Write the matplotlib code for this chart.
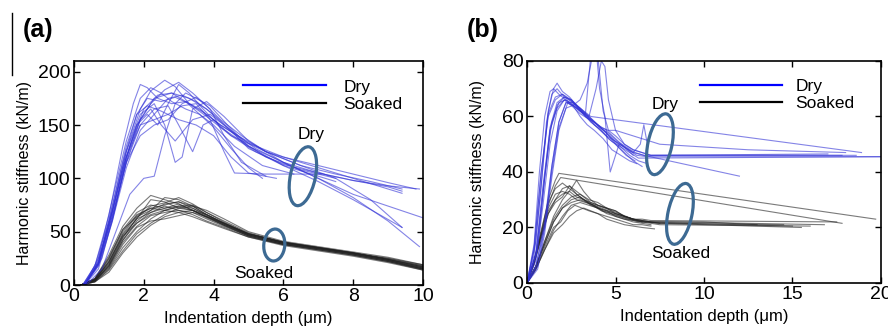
import matplotlib
matplotlib.use("Agg")
import matplotlib.pyplot as plt
from matplotlib.patches import Ellipse
from matplotlib.lines import Line2D
from matplotlib.transforms import ScaledTranslation

plt.rcParams["font.family"] = ["Liberation Sans", "DejaVu Sans"]

# =====================================
# DATA (a): 10 um indent, x = depth (um), y = stiffness (kN/m)
# =====================================

a_dry_x = [
    [0.25, 0.6, 1.0, 1.4, 1.7, 1.9, 2.1, 2.4, 2.8, 3.2, 3.6, 4.2, 5, 6, 7, 8, 9, 9.8],
    [0.3, 0.7, 1.1, 1.5, 1.9, 2.2, 2.6, 2.9, 3.3, 3.8, 4.5, 5.5, 6.5, 7.5, 8.5, 9.4],
    [0.3, 0.7, 1.1, 1.5, 1.8, 2.1, 2.4, 2.7, 3.0, 3.3, 3.7, 4.2, 5, 6, 7, 8, 9, 10],
    [0.35, 0.8, 1.2, 1.6, 2.0, 2.3, 2.6, 2.9, 3.2, 3.5, 3.9, 4.4, 5, 6, 7, 8, 9.4],
    [0.3, 0.7, 1.1, 1.5, 1.9, 2.3, 2.6, 2.9, 3.1, 3.4, 3.8, 4.3, 5, 6, 7, 8, 9, 9.9],
    [0.3, 0.7, 1.1, 1.5, 1.9, 2.3, 2.7, 3.0, 3.4, 3.7, 4.0, 4.5, 5.2, 6.0, 7.5],
    [0.3, 0.7, 1.1, 1.5, 1.9, 2.2, 2.5, 2.8, 3.2, 3.6, 4.0, 4.6, 5.4, 6.3],
    [0.3, 0.7, 1.1, 1.5, 1.9, 2.3, 2.7, 3.1, 3.5, 4.0, 4.5, 5, 6, 7, 8, 9, 9.4],
    [0.3, 0.7, 1.1, 1.5, 1.8, 2.1, 2.5, 3.0, 3.5, 4.0, 4.5, 5.0, 5.8],
    [0.25, 0.6, 1.0, 1.4, 1.8, 2.2, 2.6, 3.0, 3.4, 3.8, 4.2, 4.8, 5.5, 6.5, 7.5, 8.5, 9.4],
    [0.3, 0.7, 1.1, 1.5, 1.9, 2.3, 2.8, 3.3, 3.8, 4.3, 4.8, 5.5, 6.5, 7.5],
    [0.3, 0.7, 1.1, 1.5, 1.9, 2.3, 2.7, 3.1, 3.5, 3.9, 4.3, 4.8, 5.5],
    [0.3, 0.7, 1.1, 1.5, 1.9, 2.3, 2.7, 3.1, 3.5, 3.9, 4.3, 4.6, 5.5, 6.5, 7.1],
    [0.3, 0.7, 1.1, 1.5, 1.9, 2.2, 2.5, 2.9, 3.4, 3.9, 4.5, 5.2, 6.0, 7.0, 8.0, 9.0, 9.9],
    [0.3, 0.8, 1.2, 1.6, 2.0, 2.4, 2.8, 3.2, 3.6, 4.0, 4.5, 5.0, 5.4],
    [0.25, 0.6, 1.0, 1.4, 1.8, 2.1, 2.5, 2.9, 3.3, 3.7, 4.2, 4.8, 5.5, 6.5, 7.5, 8.5, 9.4],
]
a_dry_y = [
    [0, 18, 65, 130, 170, 188, 185, 175, 170, 172, 165, 150, 133, 120, 112, 104, 96, 90],
    [0, 20, 70, 125, 165, 182, 192, 186, 170, 158, 140, 125, 115, 105, 95, 86],
    [0, 15, 60, 120, 150, 160, 150, 170, 188, 180, 165, 148, 130, 115, 100, 85, 74, 63],
    [0, 15, 50, 85, 100, 102, 140, 170, 180, 175, 168, 150, 130, 112, 97, 80, 54],
    [0, 22, 70, 125, 160, 170, 150, 115, 120, 165, 172, 158, 135, 115, 100, 82, 60, 36],
    [0, 20, 65, 115, 150, 165, 168, 150, 125, 150, 155, 140, 125, 112, 97],
    [0, 25, 80, 135, 175, 185, 180, 172, 165, 160, 150, 130, 112, 104],
    [0, 18, 60, 110, 145, 160, 175, 178, 172, 160, 145, 128, 113, 105, 98, 92, 88],
    [0, 20, 75, 130, 160, 168, 163, 155, 150, 140, 120, 105, 100],
    [0, 15, 55, 110, 150, 170, 183, 190, 180, 168, 155, 140, 125, 112, 104, 97, 90],
    [0, 18, 62, 115, 155, 175, 180, 175, 165, 150, 135, 120, 108, 100],
    [0, 20, 65, 115, 140, 150, 155, 170, 176, 165, 140, 115, 102],
    [0, 22, 70, 120, 150, 155, 160, 168, 170, 155, 125, 105, 104, 104, 104],
    [0, 20, 68, 120, 155, 165, 150, 135, 155, 160, 145, 128, 115, 105, 98, 93, 90],
    [0, 25, 75, 130, 165, 178, 180, 172, 160, 148, 128, 110, 100],
    [0, 18, 60, 115, 160, 175, 172, 176, 170, 162, 150, 138, 125, 112, 100, 80, 54],
]

a_soak_x = [0.2, 0.6, 1.0, 1.4, 1.8, 2.2, 2.6, 3.0, 3.4, 3.8, 4.3, 5.0, 6.0, 7.0, 8.0, 9.0, 10.0]
a_soak_y = [
    [0, 5, 22, 48, 65, 72, 75, 78, 72, 65, 57, 47, 39, 34, 29, 23, 16],
    [0, 4, 18, 42, 60, 70, 82, 80, 74, 66, 58, 48, 40, 35, 30, 24, 17],
    [0, 6, 25, 52, 68, 75, 72, 76, 70, 63, 56, 46, 38, 33, 28, 22, 15],
    [0, 3, 15, 35, 50, 62, 70, 74, 75, 68, 60, 49, 40, 35, 30, 25, 18],
    [0, 5, 20, 45, 62, 80, 78, 72, 70, 64, 56, 47, 39, 34, 29, 23, 15],
    [0, 4, 17, 40, 55, 65, 68, 70, 68, 62, 55, 46, 38, 33, 28, 22, 14],
    [0, 6, 28, 55, 72, 84, 80, 76, 70, 64, 57, 48, 40, 35, 30, 24, 17],
    [0, 3, 14, 32, 48, 58, 66, 72, 74, 70, 62, 50, 41, 36, 31, 26, 19],
    [0, 5, 22, 46, 58, 68, 74, 70, 66, 60, 54, 45, 38, 33, 28, 22, 15],
    [0, 4, 19, 44, 63, 74, 77, 82, 76, 68, 59, 48, 40, 35, 30, 24, 17],
    [0, 5, 24, 50, 66, 72, 70, 68, 64, 59, 53, 45, 37, 32, 27, 21, 14],
    [0, 4, 16, 38, 54, 60, 62, 65, 68, 64, 58, 48, 40, 35, 30, 25, 19],
    [0, 6, 26, 52, 64, 70, 76, 78, 74, 66, 57, 47, 39, 34, 29, 23, 16],
    [0, 3, 12, 30, 45, 56, 64, 68, 70, 66, 58, 48, 40, 35, 30, 24, 18],
    [0, 5, 21, 47, 62, 68, 72, 74, 72, 66, 58, 47, 39, 35, 30, 24, 16],
    [0, 4, 18, 42, 58, 66, 70, 73, 70, 64, 56, 46, 38, 34, 29, 23, 15],
]

# =====================================
# DATA (b): 20 um indent
# =====================================

b_dry_x = [
    [0, 0.5, 0.9, 1.2, 1.5, 1.7, 2.0, 2.4, 2.8, 3.2, 3.6, 18.9],
    [0, 0.4, 0.8, 1.1, 1.4, 1.7, 2.1, 2.6, 3.1, 3.6, 4.1, 4.6, 5.1, 5.6, 6.1, 6.6, 7.0, 12, 17.8],
    [0, 0.5, 1.0, 1.4, 1.8, 2.2, 2.6, 3.0, 3.5, 4.0, 4.5, 5.0, 5.5, 6.0, 6.5],
    [0, 0.6, 1.0, 1.4, 1.8, 2.2, 2.6, 3.0, 3.4, 3.7, 3.9, 4.1, 4.4, 4.7, 5.2, 5.7, 6.2, 6.8, 20],
    [0, 0.5, 0.9, 1.3, 1.7, 2.1, 2.5, 2.9, 3.3, 3.8, 4.3, 4.8, 5.3, 5.8, 6.3, 6.8],
    [0, 0.4, 0.8, 1.2, 1.6, 2.0, 2.4, 2.8, 3.2, 3.6, 4.0, 4.5, 5.0, 5.5, 6.0, 6.6, 12.0],
    [0, 0.5, 0.9, 1.3, 1.7, 2.1, 2.5, 3.0, 3.5, 3.9, 4.2, 4.4, 4.6, 5.0, 5.5, 6.0, 6.5, 7.0, 17.0],
    [0, 0.6, 1.0, 1.4, 1.8, 2.2, 2.6, 3.0, 3.4, 3.8, 4.3, 4.8, 5.3, 5.8, 6.2],
    [0, 0.4, 0.7, 1.0, 1.3, 1.5, 1.8, 2.2, 2.6, 3.0, 3.4, 3.8, 4.2, 4.6, 5.0, 5.6, 6.1],
    [0, 0.5, 0.9, 1.3, 1.7, 2.1, 2.5, 2.9, 3.3, 3.5, 3.7, 4.0, 4.3, 4.6, 5.0, 5.5, 6.0, 6.5, 7.0, 18.6],
    [0, 0.5, 0.9, 1.3, 1.7, 2.1, 2.5, 3.0, 3.5, 4.0, 4.5, 5.0, 5.5, 6.0, 6.4, 6.6, 6.8],
    [0, 0.6, 1.0, 1.4, 1.8, 2.3, 2.8, 3.3, 3.8, 4.3, 4.8, 5.3, 5.8, 6.3, 20],
    [0, 0.4, 0.8, 1.2, 1.6, 2.0, 2.5, 3.0, 3.5, 4.0, 4.5, 5.0, 5.5, 6.0],
    [0, 0.5, 1.0, 1.4, 1.8, 2.2, 2.6, 3.0, 3.4, 3.8, 4.2, 4.6, 5.0, 5.5, 6.0, 6.5, 7.5, 12.5, 18.0],
]
b_dry_y = [
    [0, 15, 42, 62, 70, 72, 69, 67, 64, 62, 60, 47],
    [0, 10, 35, 58, 68, 70, 67, 65, 62, 59, 56, 54, 51, 49, 47, 46, 46, 46, 46],
    [0, 6, 22, 42, 58, 65, 65, 63, 60, 57, 54, 50, 47, 44, 42],
    [0, 12, 38, 58, 65, 66, 64, 66, 72, 82, 85, 70, 60, 40, 50, 48, 46, 45.5, 45.5],
    [0, 10, 32, 55, 64, 67, 66, 63, 60, 57, 54, 51, 49, 46, 44, 43],
    [0, 12, 40, 60, 66, 68, 66, 64, 61, 58, 56, 53, 51, 49, 47, 46, 38.5],
    [0, 8, 28, 50, 62, 66, 65, 62, 60, 70, 80, 78, 66, 55, 50, 48, 47, 46, 46.5],
    [0, 6, 20, 40, 56, 63, 64, 60, 57, 55, 52, 48, 46, 44, 43],
    [0, 14, 40, 60, 69, 70, 68, 66, 64, 62, 60, 57, 55, 52, 50, 46, 44],
    [0, 10, 33, 56, 65, 67, 66, 63, 61, 75, 88, 82, 62, 55, 53, 50, 48, 47, 46, 46],
    [0, 11, 35, 55, 63, 66, 64, 61, 59, 57, 54, 51, 49, 47, 50, 57, 50],
    [0, 5, 18, 38, 55, 65, 63, 60, 58, 55, 52, 49, 47, 45, 45.5],
    [0, 13, 40, 61, 67, 68, 66, 63, 60, 57, 55, 52, 49, 46],
    [0, 6, 20, 42, 58, 65, 64, 62, 60, 58, 56, 55, 55, 54, 53, 52, 50, 48, 47],
]

b_soak_x = [
    [0, 0.4, 0.8, 1.2, 1.6, 1.8, 19.7],
    [0, 0.4, 0.8, 1.2, 1.6, 1.9, 17.8],
    [0, 0.5, 1.0, 1.5, 2.0, 2.5, 2.8, 3.2, 3.6, 4.0, 4.5, 5.0, 5.5, 6.0, 6.5, 7.0, 8.0, 16.8],
    [0, 0.5, 1.0, 1.5, 1.9, 2.3, 2.7, 3.1, 3.5, 4.0, 4.5, 5.0, 5.5, 6.0, 6.5, 7.2],
    [0, 0.4, 0.8, 1.2, 1.6, 2.0, 2.4, 2.8, 3.2, 3.7, 4.2, 4.7, 5.2, 5.7, 6.2, 6.7, 7.5, 15.5],
    [0, 0.5, 1.0, 1.5, 2.0, 2.5, 3.0, 3.5, 4.0, 4.5, 5.0, 5.5, 6.0, 6.5, 7.0, 10.0, 13.0],
    [0, 0.4, 0.8, 1.2, 1.6, 2.0, 2.4, 2.8, 3.2, 3.6, 4.0, 4.5, 5.0, 5.5, 6.0, 6.5, 7.0, 17.5],
    [0, 0.5, 1.0, 1.5, 2.0, 2.4, 2.8, 3.2, 3.6, 4.0, 4.5, 5.0, 5.5, 6.0, 6.5, 7.0],
    [0, 0.4, 0.8, 1.2, 1.6, 2.0, 2.4, 2.8, 3.3, 3.8, 4.3, 4.8, 5.3, 5.8, 6.3, 6.8, 7.5, 14.5],
    [0, 0.5, 1.0, 1.5, 2.0, 2.5, 3.0, 3.4, 3.8, 4.2, 4.6, 5.0, 5.5, 6.0, 6.5, 7.0, 7.5, 16.0],
    [0, 0.4, 0.8, 1.2, 1.6, 2.0, 2.4, 2.8, 3.2, 3.6, 4.0, 4.5, 5.0, 5.5, 6.0, 6.5, 7.0],
    [0, 0.5, 1.0, 1.5, 2.0, 2.5, 3.0, 3.5, 4.0, 4.5, 5.0, 5.5, 6.0, 6.5, 7.0, 9.0, 12.0, 15.0],
    [0, 0.4, 0.8, 1.2, 1.6, 2.0, 2.4, 2.8, 3.2, 3.6, 4.0, 4.4, 4.8, 5.2, 5.6, 6.0, 6.5],
    [0, 0.5, 1.0, 1.5, 2.0, 2.5, 3.0, 3.5, 4.0, 4.5, 5.0, 5.5, 6.0, 6.5, 7.0, 7.5],
]
b_soak_y = [
    [0, 8, 18, 30, 37, 39.5, 23],
    [0, 7, 17, 28, 35, 38, 21.5],
    [0, 6, 15, 24, 30, 34, 37, 33, 30, 28, 27, 25, 24, 23, 22.5, 22, 22, 21],
    [0, 5, 13, 20, 22, 26, 28, 27, 26, 25, 23, 22, 21, 20.5, 20, 19.5],
    [0, 8, 17, 26, 30, 32, 33, 31, 30, 28, 26, 25, 24, 23, 22.5, 22, 21.5, 20],
    [0, 6, 14, 22, 27, 30, 31, 29, 27, 26, 25, 24, 23, 22.5, 22, 22, 21],
    [0, 7, 16, 25, 30, 34, 35, 33, 31, 29, 28, 27, 26, 24, 23, 23, 22.5, 22],
    [0, 5, 12, 18, 21, 24, 26, 27, 26, 25, 24, 23, 22, 21, 21, 20.5],
    [0, 8, 18, 27, 32, 33, 32, 30, 29, 28, 26, 25, 24, 23, 22, 22, 21.5, 21],
    [0, 6, 14, 22, 27, 29, 30, 29, 28, 27, 26, 25, 24, 23, 22, 21.5, 21, 20.5],
    [0, 7, 17, 25, 29, 31, 35, 32, 30, 28, 27, 26, 24, 23, 22, 21.5, 21],
    [0, 5, 12, 19, 24, 28, 29, 28, 27, 25, 24, 23, 22.5, 22, 22, 21.5, 21, 20.5],
    [0, 8, 19, 29, 34, 36, 34, 32, 30, 29, 28, 27, 26, 25, 24, 23, 22],
    [0, 6, 15, 23, 28, 31, 32, 30, 29, 27, 26, 24, 23, 22.5, 22, 21.5],
]

# =====================================
# STYLE
# =====================================

DRY = "#3232d6"
SOAK = "#222222"
RING = "#3d6a93"


def ring(ax, cx, cy, w, h, ang):
    # ellipse sized in inches, centred on a data point
    e = Ellipse((0, 0), w, h, angle=ang, fill=False, ec=RING, lw=2.3,
                transform=ax.figure.dpi_scale_trans + ScaledTranslation(cx, cy, ax.transData),
                zorder=5)
    ax.add_patch(e)


def style(ax, ypad):
    ax.tick_params(direction="in", top=True, right=True, length=4, width=1,
                   labelsize=14, pad=2.5)
    for s in ax.spines.values():
        s.set_linewidth(1.2)
    ax.set_xlabel("Indentation depth (\u03bcm)", fontsize=12, labelpad=4)
    ax.set_ylabel("Harmonic stiffness (kN/m)", fontsize=11.5, labelpad=ypad)


def legend(ax, x, y, hl, pad):
    h = [Line2D([], [], color="#0000ff", lw=1.6), Line2D([], [], color="black", lw=1.6)]
    ax.legend(h, ["Dry", "Soaked"], loc="upper left", bbox_to_anchor=(x, y),
              frameon=False, fontsize=12.5, handlelength=hl, handletextpad=pad,
              labelspacing=0.12, borderpad=0, borderaxespad=0)


fig = plt.figure(figsize=(8.88, 3.33), dpi=100)

# =====================================
# PANEL (a)
# =====================================

ax1 = fig.add_axes([0.0833, 0.1441, 0.3930, 0.6727])
for ys in a_soak_y:
    ax1.plot(a_soak_x, ys, color=SOAK, lw=0.8, alpha=0.6)
for xs, ys in zip(a_dry_x, a_dry_y):
    ax1.plot(xs, ys, color=DRY, lw=0.8, alpha=0.6)
ax1.set_xlim(0, 10)
ax1.set_ylim(0, 210)
ax1.set_xticks([0, 2, 4, 6, 8, 10])
ax1.set_yticks([0, 50, 100, 150, 200])
style(ax1, 4)
legend(ax1, 0.484, 0.918, 4.8, 1.0)
ax1.text(6.79, 141.5, "Dry", fontsize=12.5, ha="center", va="center")
ax1.text(5.43, 11.2, "Soaked", fontsize=12.5, ha="center", va="center")
ring(ax1, 6.56, 102, 0.25, 0.60, -12)
ring(ax1, 5.74, 37.5, 0.21, 0.32, -5)

# =====================================
# PANEL (b)
# =====================================

ax2 = fig.add_axes([0.5935, 0.1502, 0.3986, 0.6667])
for xs, ys in zip(b_soak_x, b_soak_y):
    ax2.plot(xs, ys, color=SOAK, lw=0.8, alpha=0.6)
for xs, ys in zip(b_dry_x, b_dry_y):
    ax2.plot(xs, ys, color=DRY, lw=0.8, alpha=0.6)
ax2.set_xlim(0, 20)
ax2.set_ylim(0, 80)
ax2.set_xticks([0, 5, 10, 15, 20])
ax2.set_yticks([0, 20, 40, 60, 80])
style(ax2, 12)
legend(ax2, 0.489, 0.921, 4.7, 0.8)
ax2.text(7.8, 64.3, "Dry", fontsize=12.5, ha="center", va="center")
ax2.text(8.67, 10.6, "Soaked", fontsize=12.5, ha="center", va="center")
ring(ax2, 7.51, 50, 0.24, 0.62, -12)
ring(ax2, 8.64, 24.9, 0.24, 0.62, -12)

# panel letters and the stray rule at the left edge
fig.text(0.026, 0.91, "(a)", fontsize=18, fontweight="bold", va="center")
fig.text(0.526, 0.91, "(b)", fontsize=18, fontweight="bold", va="center")
fig.add_artist(Line2D([0.0135, 0.0135], [0.961, 0.775], color="black", lw=1))

fig.savefig("out.png", dpi=100)
